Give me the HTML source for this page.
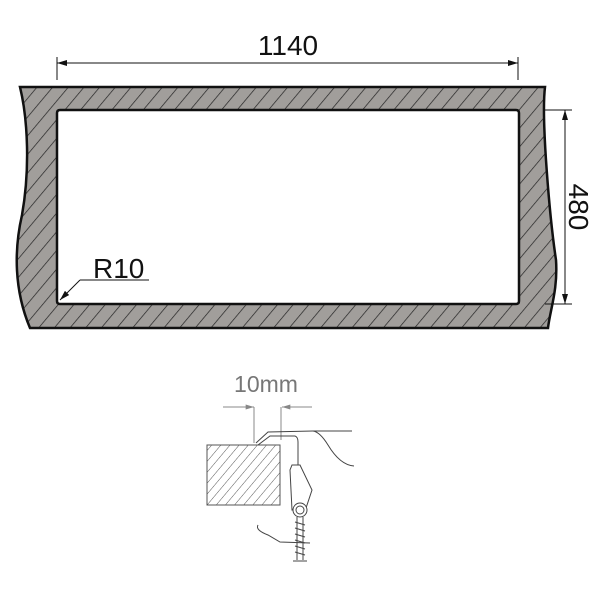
<!DOCTYPE html>
<html><head><style>body{margin:0;background:#fff}svg{display:block}</style></head><body>
<svg width="600" height="600" viewBox="0 0 600 600" xmlns="http://www.w3.org/2000/svg" font-family="Liberation Sans, Arial, sans-serif">
<defs>
<pattern id="h" width="12" height="12" patternUnits="userSpaceOnUse" patternTransform="rotate(40)">
<rect width="12" height="12" fill="#a19e9b"/><line x1="0" y1="0" x2="0" y2="12" stroke="#222" stroke-width="1.4"/></pattern>
<pattern id="h2" width="7" height="7" patternUnits="userSpaceOnUse" patternTransform="rotate(40)">
<rect width="7" height="7" fill="#fff"/><line x1="0" y1="0" x2="0" y2="7" stroke="#444" stroke-width="0.9"/></pattern>
<marker id="a" viewBox="0 0 10 6" refX="10" refY="3" markerWidth="10" markerHeight="6" orient="auto-start-reverse" markerUnits="userSpaceOnUse"><path d="M0,0 L10,3 L0,6z" fill="#111"/></marker>
<marker id="g" viewBox="0 0 10 6" refX="10" refY="3" markerWidth="9" markerHeight="5" orient="auto" markerUnits="userSpaceOnUse"><path d="M0,0 L10,3 L0,6z" fill="#888"/></marker>
</defs>
<path fill-rule="evenodd" fill="url(#h)" stroke="#111" stroke-width="2.5" d="M20,87 L545,87 C541,120 550,220 556,260 C558,290 550,310 548,328 L30,328 C14,290 14,250 22,215 C30,170 28,120 20,87 Z M60,110 L516,110 Q519,110 519,113 L519,301 Q519,304 516,304 L60,304 Q57,304 57,301 L57,113 Q57,110 60,110 Z"/>
<g stroke="#111" stroke-width="1" fill="none">
<line x1="57" y1="57" x2="57" y2="80"/><line x1="518" y1="57" x2="518" y2="80"/>
<line x1="57" y1="63" x2="518" y2="63" marker-start="url(#a)" marker-end="url(#a)"/>
<line x1="543" y1="110" x2="572" y2="110"/><line x1="545" y1="304" x2="572" y2="304"/>
<line x1="565" y1="110" x2="565" y2="304" marker-start="url(#a)" marker-end="url(#a)"/>
<line x1="149" y1="280" x2="80" y2="280"/>
<line x1="80" y1="280" x2="60" y2="300" marker-end="url(#a)"/>
</g>
<text x="288" y="55" font-size="28" text-anchor="middle" fill="#111">1140</text>
<text x="93" y="278" font-size="28" fill="#111">R10</text>
<text transform="translate(569,207) rotate(90)" font-size="28" text-anchor="middle" fill="#111">480</text>
<!-- detail -->
<text x="266" y="392" font-size="23" text-anchor="middle" fill="#777">10mm</text>
<g stroke="#888" stroke-width="1" fill="none">
<line x1="223" y1="407" x2="254" y2="407" marker-end="url(#g)"/>
<line x1="312" y1="407" x2="282" y2="407" marker-end="url(#g)"/>
<line x1="254" y1="407" x2="254" y2="443"/>
<line x1="281" y1="407" x2="281" y2="440"/>
</g>
<rect x="207" y="445" width="73" height="60" fill="url(#h2)" stroke="#555" stroke-width="1"/>
<g stroke="#444" stroke-width="1" fill="none">
<path d="M256,443 L268,432 L313,431 L352,431"/>
<path d="M258,445 L270,436 L295,436 Q298,437 298,442 L298,475"/>
<path d="M313,431 Q320,432 328,445 Q340,465 354,466"/>
<path d="M292,465 L300,465 L312,490 L306,508 L292,510 L290,470 Z" fill="#fff"/>
<circle cx="300" cy="510" r="7" fill="#fff"/>
<circle cx="300" cy="510" r="4"/>
<line x1="297" y1="517" x2="297" y2="560"/><line x1="303" y1="517" x2="303" y2="560"/>
<path d="M295,522 L305,525 M295,528 L305,531 M295,534 L305,537 M295,540 L305,543 M295,546 L305,549 M295,552 L305,555"/>
<line x1="293" y1="561" x2="307" y2="561"/>
<path d="M258,525 Q255,530 268,535 L280,542 L310,543"/>
</g>
</svg>
</body></html>
